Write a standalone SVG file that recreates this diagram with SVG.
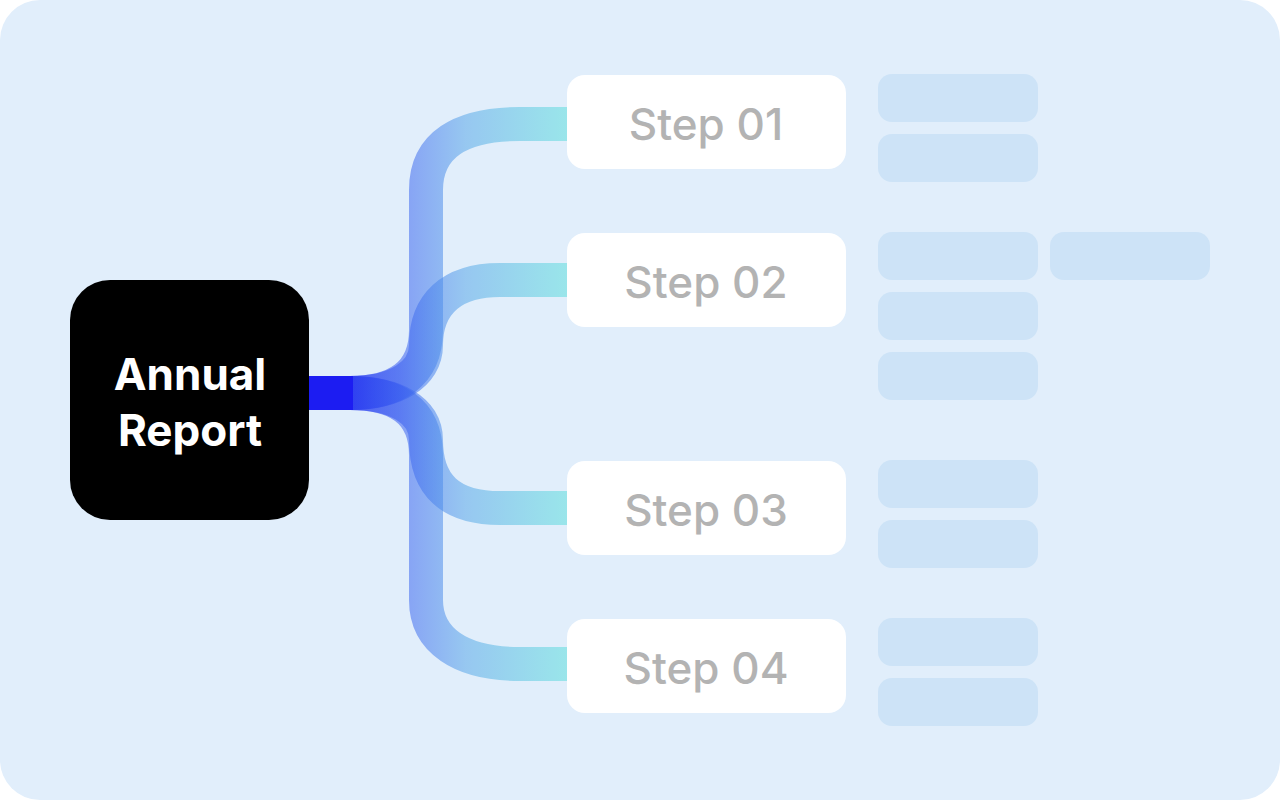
<svg xmlns="http://www.w3.org/2000/svg" width="1280" height="800" viewBox="0 0 1280 800">
<defs>
<linearGradient id="g" gradientUnits="userSpaceOnUse" x1="310" y1="0" x2="570" y2="0">
<stop offset="0" stop-color="#1818f0"/><stop offset="0.35" stop-color="#3a5ff0"/><stop offset="0.6" stop-color="#5aa8e8"/><stop offset="1" stop-color="#5fe0dc"/>
</linearGradient>
<style>
.c{fill:none;stroke:url(#g);stroke-width:34;opacity:0.55}
.s{fill:#fff}
.t{font-family:Inter,"Liberation Sans",sans-serif;font-size:44px;fill:#b3b3b3;text-anchor:middle;font-weight:500}
.p{fill:#cde3f7}
</style>
</defs>
<rect width="1280" height="800" fill="#fff"/>
<rect x="0" y="0" width="1280" height="800" rx="40" fill="#e1eefb"/>
<g id="connectors">
<path class="c" d="M308,393 H350 C395,393 426,375 426,330 V190 C426,145 460,124 520,124 H570"/>
<path class="c" d="M308,393 H350 C395,393 426,375 426,345 C426,305 450,280 500,280 H570"/>
<path class="c" d="M308,393 H350 C395,393 426,410 426,440 C426,485 450,508 500,508 H570"/>
<path class="c" d="M308,393 H350 C395,393 426,410 426,455 V600 C426,640 460,664 520,664 H570"/>
<rect x="308" y="376" width="45" height="34" fill="#1c1cf2"/>
</g>
<g id="root"><rect x="70" y="280" width="239" height="240" rx="40" fill="#000"/>
<text x="190" y="390" font-family="Inter,'Liberation Sans',sans-serif" font-size="44" font-weight="700" fill="#fff" text-anchor="middle">Annual</text>
<text x="190" y="446" font-family="Inter,'Liberation Sans',sans-serif" font-size="44" font-weight="700" fill="#fff" text-anchor="middle">Report</text></g>
<g id="step1"><rect class="s" x="567" y="75" width="279" height="94" rx="18"/><text class="t" x="706" y="140">Step 01</text></g>
<g id="step2"><rect class="s" x="567" y="233" width="279" height="94" rx="18"/><text class="t" x="706" y="298">Step 02</text></g>
<g id="step3"><rect class="s" x="567" y="461" width="279" height="94" rx="18"/><text class="t" x="706" y="526">Step 03</text></g>
<g id="step4"><rect class="s" x="567" y="619" width="279" height="94" rx="18"/><text class="t" x="706" y="684">Step 04</text></g>
<g id="placeholders">
<rect class="p" x="878" y="74" width="160" height="48" rx="14"/>
<rect class="p" x="878" y="134" width="160" height="48" rx="14"/>
<rect class="p" x="878" y="232" width="160" height="48" rx="14"/>
<rect class="p" x="1050" y="232" width="160" height="48" rx="14"/>
<rect class="p" x="878" y="292" width="160" height="48" rx="14"/>
<rect class="p" x="878" y="352" width="160" height="48" rx="14"/>
<rect class="p" x="878" y="460" width="160" height="48" rx="14"/>
<rect class="p" x="878" y="520" width="160" height="48" rx="14"/>
<rect class="p" x="878" y="618" width="160" height="48" rx="14"/>
<rect class="p" x="878" y="678" width="160" height="48" rx="14"/>
</g>
</svg>
